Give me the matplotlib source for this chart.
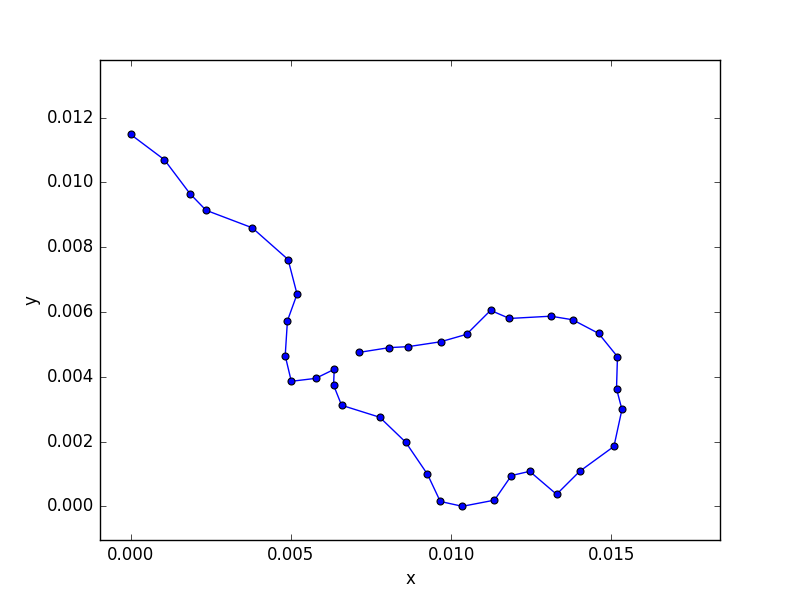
import matplotlib
matplotlib.use("Agg")
import matplotlib.pyplot as plt
from matplotlib.ticker import MultipleLocator, FormatStrFormatter

plt.style.use('classic')

x = [0.0000, 0.00105, 0.00185, 0.00235, 0.00379, 0.00491, 0.00519, 0.00489,
     0.00482, 0.00501, 0.00577, 0.00635, 0.00633, 0.00658, 0.00777, 0.00858,
     0.00926, 0.00966, 0.01035, 0.01135, 0.01188, 0.01245, 0.01329, 0.01401,
     0.01508, 0.01533, 0.01516, 0.01519, 0.01460, 0.01379, 0.01311, 0.01182,
     0.01123, 0.01048, 0.00967, 0.00866, 0.00807, 0.00711]
y = [0.01148, 0.01070, 0.00965, 0.00914, 0.00860, 0.00762, 0.00655, 0.00573,
     0.00465, 0.00386, 0.00395, 0.00423, 0.00374, 0.00312, 0.00275, 0.00198,
     0.00099, 0.00015, 0.00000, 0.00019, 0.00095, 0.00108, 0.00037, 0.00108,
     0.00185, 0.00299, 0.00363, 0.00462, 0.00534, 0.00576, 0.00587, 0.00580,
     0.00605, 0.00531, 0.00508, 0.00493, 0.00490, 0.00475]

fig = plt.figure(figsize=(8, 6), dpi=100, facecolor='white')
ax = fig.add_subplot(111)
ax.plot(x, y, 'o-', color='b', markerfacecolor='b', markeredgecolor='k',
        markeredgewidth=0.8, markersize=5, linewidth=1)
ax.set_xlim(-0.00096, 0.01839)
ax.set_ylim(-0.00104, 0.01378)
ax.xaxis.set_major_locator(MultipleLocator(0.005))
ax.yaxis.set_major_locator(MultipleLocator(0.002))
ax.xaxis.set_major_formatter(FormatStrFormatter('%.3f'))
ax.yaxis.set_major_formatter(FormatStrFormatter('%.3f'))
ax.set_xlabel('x')
ax.set_ylabel('y')
fig.savefig('out.png', dpi=100, facecolor='white')
